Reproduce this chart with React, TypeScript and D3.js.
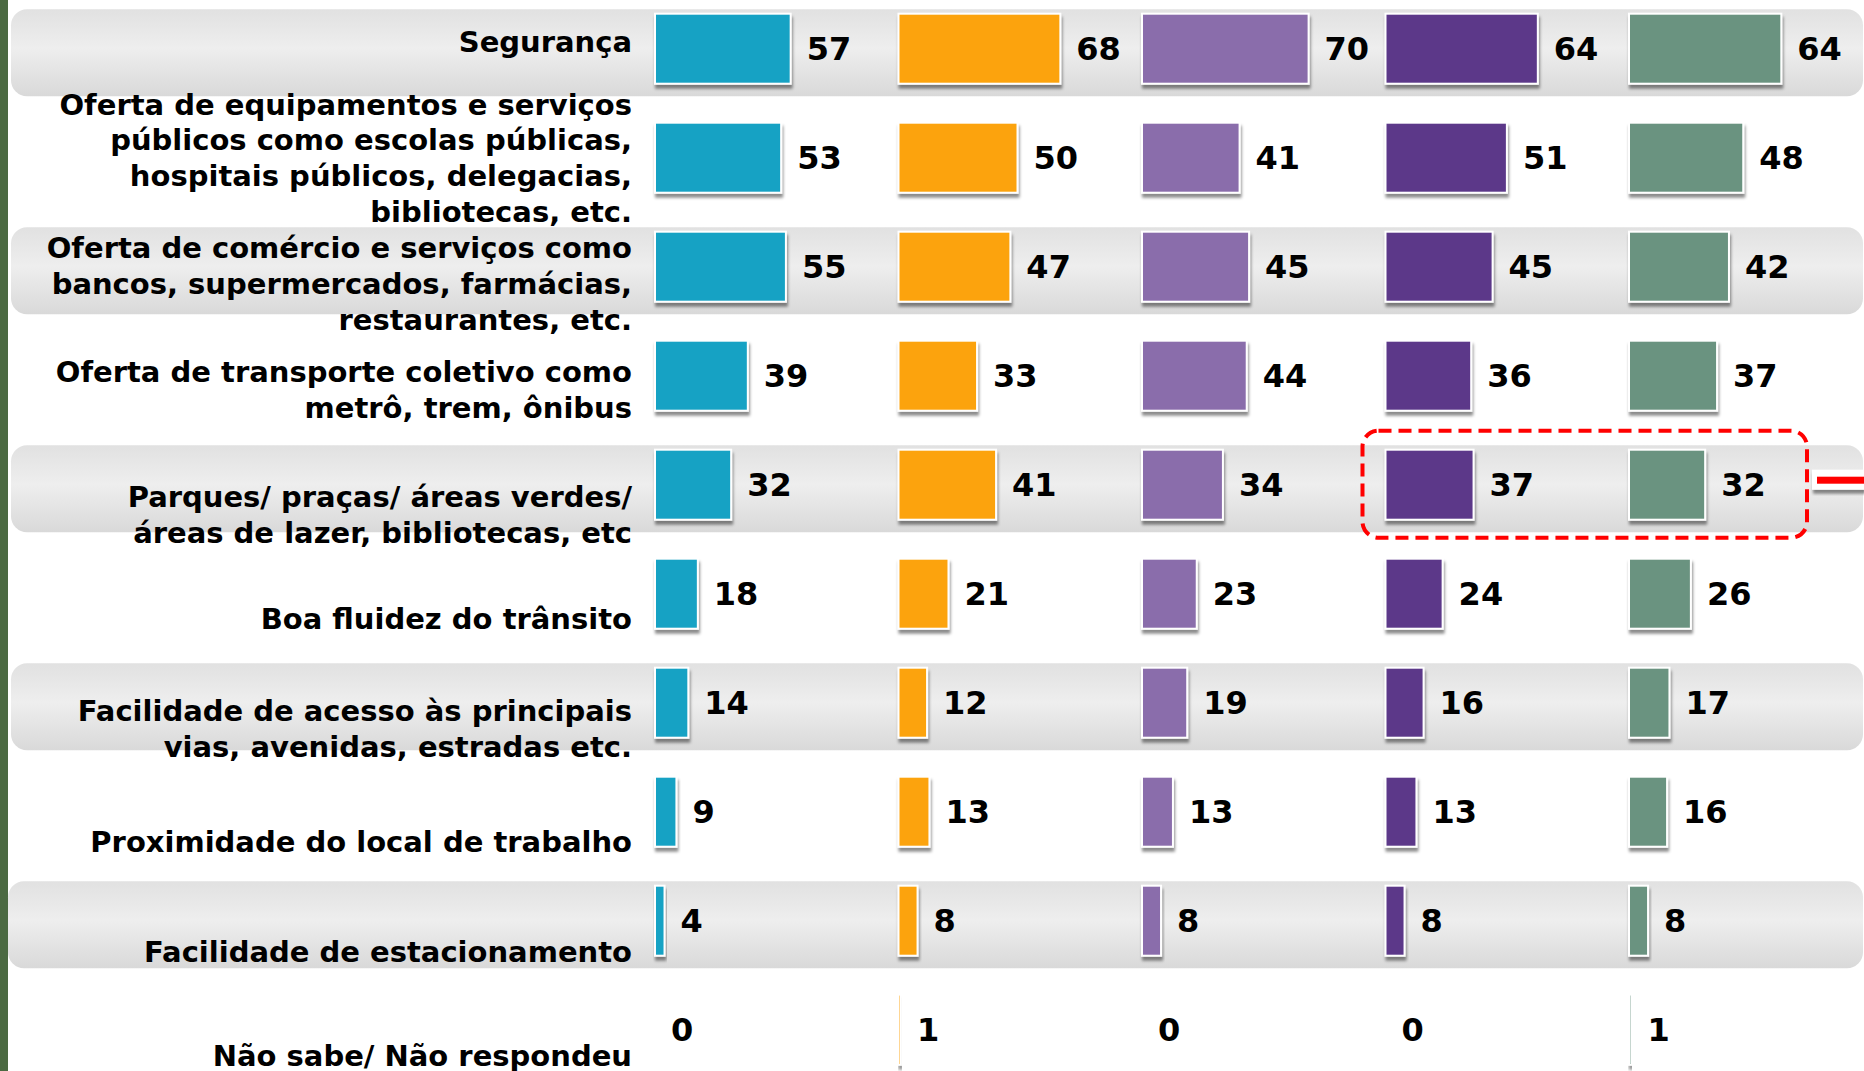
import React from 'react';
import * as d3 from 'd3';

// ---------- data ----------
const categories: string[] = [
  'Segurança',
  'Oferta de equipamentos e serviços\npúblicos como escolas públicas,\nhospitais públicos, delegacias,\nbibliotecas, etc.',
  'Oferta de comércio e serviços como\nbancos, supermercados, farmácias,\nrestaurantes, etc.',
  'Oferta de transporte coletivo como\nmetrô, trem, ônibus',
  'Parques/ praças/ áreas verdes/\náreas de lazer, bibliotecas, etc',
  'Boa fluidez do trânsito',
  'Facilidade de acesso às principais\nvias, avenidas, estradas etc.',
  'Proximidade do local de trabalho',
  'Facilidade de estacionamento',
  'Não sabe/ Não respondeu',
];

const seriesKeys: string[] = ['s1', 's2', 's3', 's4', 's5'];
const s1: number[] = [57, 53, 55, 39, 32, 18, 14, 9, 4, 0];
const s2: number[] = [68, 50, 47, 33, 41, 21, 12, 13, 8, 1];
const s3: number[] = [70, 41, 45, 44, 34, 23, 19, 13, 8, 0];
const s4: number[] = [64, 51, 45, 36, 37, 24, 16, 13, 8, 0];
const s5: number[] = [64, 48, 42, 37, 32, 26, 17, 16, 8, 1];
const seriesValues: number[][] = [s1, s2, s3, s4, s5];
const seriesColors: string[] = ['#16a2c4', '#fca30a', '#8a6dab', '#5b3889', '#6b9380'];

const highlightRow = 4;
const highlightSeries = ['s4', 's5'];

// ---------- layout ----------
const W = 1864;
const H = 1071;
const rowPitch = 109;
const firstRowCenter = 48.7;
const barH = 70;
const bandH = 87;
const labelRight = 632;
const catFont = 29;
const catLineH = 35.7;
const valFont = 32;
// visual vertical shift of category label blocks relative to row centre
const labelShift = [-7, 0, 17, 14, 30, 25, 26, 30, 31, 26];

export default function App() {
  const y = d3
    .scaleBand<string>()
    .domain(categories)
    .range([firstRowCenter - rowPitch / 2, firstRowCenter - rowPitch / 2 + rowPitch * categories.length])
    .paddingInner(0)
    .paddingOuter(0);
  const rowC = (c: string) => (y(c) as number) + y.bandwidth() / 2;

  const col = d3
    .scaleBand<string>()
    .domain(seriesKeys)
    .range([655, 655 + 243.5 * seriesKeys.length]);
  const len = d3.scaleLinear().domain([0, 100]).range([0, 238]);

  const hlC = rowC(categories[highlightRow]);
  const hlX0 = (col(highlightSeries[0]) as number) - 23;
  const hlX1 = (col(highlightSeries[1]) as number) + 178;

  return (
    <svg
      width={W}
      height={H}
      style={{ position: 'absolute', left: 0, top: 0, display: 'block', background: '#fff' }}
      fontFamily="'DejaVu Sans', Verdana, sans-serif"
    >
      <defs>
        <linearGradient id="band" x1="0" y1="0" x2="0" y2="1">
          <stop offset="0%" stopColor="#e1e1e1" />
          <stop offset="45%" stopColor="#eeeeee" />
          <stop offset="100%" stopColor="#d9d9d9" />
        </linearGradient>
        <filter id="shadow" x="-20%" y="-20%" width="140%" height="150%">
          <feDropShadow dx="1" dy="4" stdDeviation="1.6" floodColor="#000" floodOpacity="0.45" />
        </filter>
      </defs>
      <rect x={0} y={0} width={W} height={H} fill="#fff" />
      {/* green left strip */}
      <rect x={0} y={0} width={8} height={H} fill="#4b6a42" />

      {/* alternating bands */}
      {categories.map((c, i) =>
        i % 2 === 0 ? (
          <rect
            key={'band' + i}
            x={i === 8 ? 8 : 11}
            y={rowC(c) + 4 - bandH / 2}
            width={W - (i === 8 ? 9 : 12)}
            height={bandH}
            rx={16}
            fill="url(#band)"
          />
        ) : null
      )}

      {/* category labels */}
      {categories.map((c, i) => {
        const lines = c.split('\n');
        const mid = rowC(c) + labelShift[i];
        const top = mid - ((lines.length - 1) * catLineH) / 2;
        return (
          <text key={'cat' + i} textAnchor="end" fontSize={catFont} fontWeight="bold" fill="#000">
            {lines.map((l, j) => (
              <tspan key={j} x={labelRight} y={top + j * catLineH + catFont * 0.36}>
                {l}
              </tspan>
            ))}
          </text>
        );
      })}

      {/* bars */}
      {seriesKeys.map((s, si) => (
        <g key={s}>
          {categories.map((c, ci) => {
            const v = seriesValues[si][ci];
            const x0 = col(s) as number;
            const cy = rowC(c);
            return (
              <g key={s + ci}>
                {v > 0 && (
                  <rect
                    x={x0}
                    y={cy - barH / 2}
                    width={len(v)}
                    height={barH}
                    fill={seriesColors[si]}
                    stroke="#fff"
                    strokeWidth={2}
                    filter="url(#shadow)"
                  />
                )}
                <text
                  x={x0 + len(v) + 16}
                  y={cy + valFont * 0.36}
                  fontSize={valFont}
                  fontWeight="bold"
                  fill="#000"
                >
                  {v}
                </text>
              </g>
            );
          })}
        </g>
      ))}

      {/* highlight box */}
      <rect
        x={hlX0}
        y={hlC - 54}
        width={hlX1 - hlX0}
        height={107}
        rx={16}
        fill="none"
        stroke="#ff0000"
        strokeWidth={4}
        strokeDasharray="13 7"
      />
      <rect x={1812} y={hlC - 15} width={60} height={20} fill="#fff" filter="url(#shadow)" />
      <rect x={1817} y={hlC - 8} width={55} height={7} fill="#ff0000" />
    </svg>
  );
}
